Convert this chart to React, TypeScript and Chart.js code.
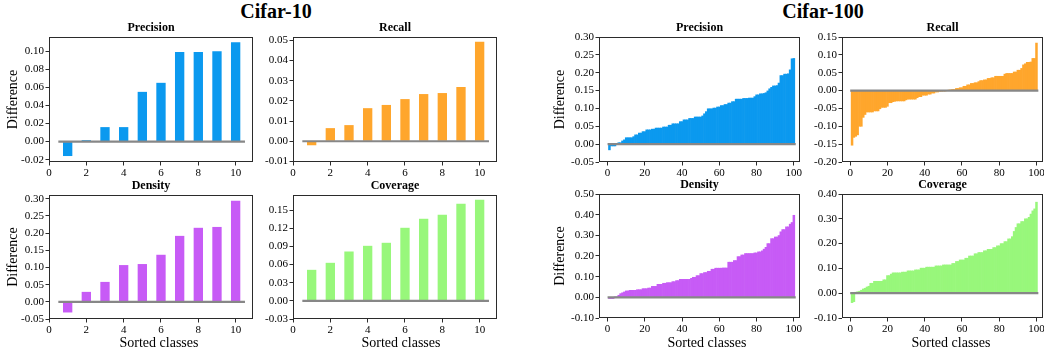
import React, { useEffect, useRef } from "react";
import { Chart, registerables } from "chart.js";

Chart.register(...registerables);

const FONT = '"Liberation Serif", "Times New Roman", Times, serif';
Chart.defaults.font.family = FONT;
Chart.defaults.color = "#000";

// ---------- data ----------
const classes10 = [1, 2, 3, 4, 5, 6, 7, 8, 9, 10];
const classes100 = Array.from({ length: 100 }, (_, i) => i + 1);

const precision10 = [-0.016, 0.0015, 0.016, 0.016, 0.055, 0.065, 0.099, 0.099, 0.1, 0.11];
const recall10 = [-0.002, 0.0065, 0.008, 0.0164, 0.018, 0.0209, 0.0234, 0.0239, 0.0269, 0.0493];
const density10 = [-0.031, 0.029, 0.058, 0.107, 0.11, 0.137, 0.192, 0.2155, 0.218, 0.294];
const coverage10 = [0.0513, 0.0629, 0.0816, 0.091, 0.096, 0.1208, 0.1357, 0.1423, 0.1605, 0.167];

const precision100 = [
  -0.016, -0.005, -0.005, -0.005, 0.001, 0.004, 0.004, 0.009, 0.012, 0.018,
  0.018, 0.018, 0.018, 0.021, 0.026, 0.026, 0.031, 0.031, 0.035, 0.035,
  0.04, 0.04, 0.04, 0.042, 0.042, 0.045, 0.045, 0.045, 0.045, 0.048,
  0.048, 0.048, 0.053, 0.053, 0.057, 0.057, 0.057, 0.057, 0.063, 0.063,
  0.068, 0.068, 0.068, 0.072, 0.072, 0.072, 0.076, 0.076, 0.076, 0.076,
  0.079, 0.085, 0.091, 0.099, 0.099, 0.099, 0.101, 0.101, 0.104, 0.104,
  0.108, 0.108, 0.111, 0.111, 0.115, 0.115, 0.119, 0.119, 0.126, 0.126,
  0.126, 0.126, 0.128, 0.128, 0.128, 0.129, 0.129, 0.129, 0.133, 0.138,
  0.138, 0.141, 0.141, 0.142, 0.144, 0.149, 0.155, 0.159, 0.163, 0.163,
  0.164, 0.171, 0.192, 0.192, 0.196, 0.196, 0.197, 0.208, 0.239, 0.24,
];

const recall100 = [
  -0.153, -0.131, -0.128, -0.124, -0.1, -0.1, -0.075, -0.067, -0.06, -0.06,
  -0.06, -0.06, -0.057, -0.057, -0.057, -0.051, -0.047, -0.047, -0.047, -0.044,
  -0.034, -0.034, -0.031, -0.03, -0.029, -0.029, -0.029, -0.029, -0.029, -0.026,
  -0.024, -0.024, -0.024, -0.024, -0.024, -0.02, -0.017, -0.017, -0.013, -0.013,
  -0.013, -0.01, -0.01, -0.007, -0.007, -0.004, -0.004, -0.002, -0.002, -0.001,
  -0.001, 0.0, 0.001, 0.002, 0.003, 0.003, 0.006, 0.006, 0.008, 0.008,
  0.012, 0.012, 0.016, 0.016, 0.02, 0.02, 0.022, 0.022, 0.025, 0.028,
  0.028, 0.03, 0.03, 0.034, 0.034, 0.036, 0.036, 0.04, 0.04, 0.04,
  0.04, 0.04, 0.046, 0.048, 0.048, 0.048, 0.048, 0.052, 0.052, 0.057,
  0.057, 0.062, 0.072, 0.075, 0.079, 0.079, 0.08, 0.09, 0.09, 0.133,
];

const density100 = [
  -0.006, -0.006, -0.006, 0.001, 0.001, 0.01, 0.018, 0.022, 0.026, 0.031,
  0.031, 0.034, 0.034, 0.034, 0.034, 0.037, 0.037, 0.037, 0.042, 0.042,
  0.042, 0.045, 0.045, 0.053, 0.053, 0.053, 0.063, 0.063, 0.063, 0.068,
  0.068, 0.071, 0.071, 0.071, 0.076, 0.076, 0.081, 0.081, 0.087, 0.087,
  0.087, 0.087, 0.087, 0.087, 0.092, 0.097, 0.097, 0.105, 0.105, 0.115,
  0.115, 0.12, 0.12, 0.126, 0.126, 0.136, 0.136, 0.141, 0.141, 0.141,
  0.141, 0.142, 0.142, 0.142, 0.17, 0.17, 0.17, 0.178, 0.178, 0.197,
  0.197, 0.205, 0.205, 0.212, 0.212, 0.212, 0.212, 0.212, 0.215, 0.215,
  0.22, 0.22, 0.225, 0.233, 0.242, 0.26, 0.26, 0.284, 0.284, 0.292,
  0.292, 0.299, 0.317, 0.328, 0.328, 0.341, 0.341, 0.354, 0.362, 0.397,
];

const coverage100 = [
  -0.038, -0.034, 0.004, 0.006, 0.008, 0.012, 0.017, 0.02, 0.025, 0.028,
  0.04, 0.04, 0.048, 0.048, 0.048, 0.048, 0.048, 0.054, 0.054, 0.071,
  0.071, 0.077, 0.082, 0.082, 0.082, 0.082, 0.082, 0.085, 0.085, 0.085,
  0.09, 0.09, 0.09, 0.09, 0.094, 0.094, 0.094, 0.101, 0.101, 0.101,
  0.105, 0.105, 0.105, 0.105, 0.105, 0.11, 0.11, 0.11, 0.11, 0.114,
  0.114, 0.114, 0.114, 0.114, 0.12, 0.12, 0.128, 0.128, 0.134, 0.134,
  0.134, 0.141, 0.141, 0.15, 0.15, 0.15, 0.159, 0.159, 0.164, 0.164,
  0.164, 0.171, 0.171, 0.177, 0.177, 0.177, 0.184, 0.184, 0.191, 0.191,
  0.2, 0.2, 0.208, 0.208, 0.219, 0.219, 0.228, 0.249, 0.265, 0.28,
  0.28, 0.289, 0.289, 0.3, 0.3, 0.306, 0.319, 0.332, 0.34, 0.367,
];

const xTicks10 = [0, 2, 4, 6, 8, 10];
const xTicks100 = [0, 20, 40, 60, 80, 100];
const yTicksPrecision10 = [-0.02, 0.0, 0.02, 0.04, 0.06, 0.08, 0.1];
const yTicksRecall10 = [-0.01, 0.0, 0.01, 0.02, 0.03, 0.04, 0.05];
const yTicksDensity10 = [-0.05, 0.0, 0.05, 0.1, 0.15, 0.2, 0.25, 0.3];
const yTicksCoverage10 = [-0.03, 0.0, 0.03, 0.06, 0.09, 0.12, 0.15];
const yTicksPrecision100 = [-0.05, 0.0, 0.05, 0.1, 0.15, 0.2, 0.25, 0.3];
const yTicksRecall100 = [-0.2, -0.15, -0.1, -0.05, 0.0, 0.05, 0.1, 0.15];
const yTicksDensity100 = [-0.1, 0.0, 0.1, 0.2, 0.3, 0.4, 0.5];
const yTicksCoverage100 = [-0.1, 0.0, 0.1, 0.2, 0.3, 0.4];

// ---------- styling / layout ----------
const BLUE = "#0b99ef";
const ORANGE = "#ffa62c";
const PURPLE = "#c75bf6";
const GREEN = "#98f77b";
const ZERO_GRAY = "#878787";

type Panel = {
  key: string;
  title: string;
  xs: number[];
  ys: number[];
  color: string;
  xMin: number;
  xMax: number;
  xTicks: number[];
  yMin: number;
  yMax: number;
  yTicks: number[];
  zero: [number, number];
  barPct: number;
  box: [number, number, number, number]; // plot-area left, top, width, height
  yTitle: boolean;
  yTitlePad: number;
};

const panels: Panel[] = [
  { key: "p10", title: "Precision", xs: classes10, ys: precision10, color: BLUE, xMin: 0, xMax: 10.93, xTicks: xTicks10, yMin: -0.0226, yMax: 0.1157, yTicks: yTicksPrecision10, zero: [0.5, 10.5], barPct: 0.5, box: [49, 37, 204, 125], yTitle: true, yTitlePad: 4.6 },
  { key: "r10", title: "Recall", xs: classes10, ys: recall10, color: ORANGE, xMin: 0, xMax: 10.93, xTicks: xTicks10, yMin: -0.0103, yMax: 0.0517, yTicks: yTicksRecall10, zero: [0.5, 10.5], barPct: 0.5, box: [293, 37, 204, 125], yTitle: false, yTitlePad: 0 },
  { key: "d10", title: "Density", xs: classes10, ys: density10, color: PURPLE, xMin: 0, xMax: 10.93, xTicks: xTicks10, yMin: -0.05, yMax: 0.311, yTicks: yTicksDensity10, zero: [0.5, 10.5], barPct: 0.5, box: [49, 195, 204, 124], yTitle: true, yTitlePad: 4.6 },
  { key: "c10", title: "Coverage", xs: classes10, ys: coverage10, color: GREEN, xMin: 0, xMax: 10.93, xTicks: xTicks10, yMin: -0.03, yMax: 0.175, yTicks: yTicksCoverage10, zero: [0.5, 10.5], barPct: 0.5, box: [293, 195, 204, 124], yTitle: false, yTitlePad: 0 },
  { key: "p100", title: "Precision", xs: classes100, ys: precision100, color: BLUE, xMin: -4.6, xMax: 103.3, xTicks: xTicks100, yMin: -0.05, yMax: 0.3, yTicks: yTicksPrecision100, zero: [0, 101], barPct: 1, box: [599, 37, 201, 125], yTitle: true, yTitlePad: 2.1 },
  { key: "r100", title: "Recall", xs: classes100, ys: recall100, color: ORANGE, xMin: -4.4, xMax: 103.5, xTicks: xTicks100, yMin: -0.2, yMax: 0.15, yTicks: yTicksRecall100, zero: [0, 101], barPct: 1, box: [842, 37, 201, 125], yTitle: false, yTitlePad: 0 },
  { key: "d100", title: "Density", xs: classes100, ys: density100, color: PURPLE, xMin: -4.6, xMax: 103.3, xTicks: xTicks100, yMin: -0.1, yMax: 0.5, yTicks: yTicksDensity100, zero: [0, 101], barPct: 1, box: [599, 194, 201, 124], yTitle: true, yTitlePad: 2.1 },
  { key: "c100", title: "Coverage", xs: classes100, ys: coverage100, color: GREEN, xMin: -4.4, xMax: 103.5, xTicks: xTicks100, yMin: -0.1, yMax: 0.4, yTicks: yTicksCoverage100, zero: [0, 101], barPct: 1, box: [842, 194, 201, 124], yTitle: false, yTitlePad: 0 },
];

const framePlugin = {
  id: "frame",
  afterDatasetsDraw(chart: any) {
    const { ctx, chartArea: a } = chart;
    ctx.save();
    ctx.strokeStyle = "#2b2b2b";
    ctx.lineWidth = 1;
    ctx.strokeRect(a.left + 0.5, a.top + 0.5, a.right - a.left - 1, a.bottom - a.top - 1);
    ctx.restore();
  },
};

function PanelChart({ p }: { p: Panel }) {
  const ref = useRef<HTMLCanvasElement>(null);
  const L = 49;
  const T = 17;
  const R = 8;
  const B = 20;
  const [px, py, pw, ph] = p.box;
  const cw = L + pw + R;
  const ch = T + ph + B;

  useEffect(() => {
    const canvas = ref.current;
    if (!canvas) return;
    const chart = new Chart(canvas, {
      type: "bar",
      data: {
        datasets: [
          {
            type: "line",
            data: [
              { x: p.zero[0], y: 0 },
              { x: p.zero[1], y: 0 },
            ],
            borderColor: ZERO_GRAY,
            borderWidth: 2.2,
            pointRadius: 0,
            order: 0,
          } as any,
          {
            type: "bar",
            data: p.xs.map((x, i) => ({ x, y: p.ys[i] })),
            backgroundColor: p.color,
            borderWidth: 0,
            barPercentage: p.barPct,
            categoryPercentage: 1,
            order: 1,
          } as any,
        ],
      },
      options: {
        animation: false,
        responsive: false,
        maintainAspectRatio: false,
        layout: { padding: { left: 0, top: 0, right: R, bottom: 0 } },
        plugins: {
          legend: { display: false },
          tooltip: { enabled: false },
          title: {
            display: true,
            text: p.title,
            fullSize: false,
            font: { size: 12, weight: "bold", lineHeight: 1.25 },
            color: "#000",
            padding: { top: 0, bottom: 2 },
          },
        },
        scales: {
          x: {
            type: "linear",
            min: p.xMin,
            max: p.xMax,
            offset: false,
            grid: { display: true, drawOnChartArea: false, drawTicks: true, tickLength: 3.5, tickColor: "#2b2b2b", offset: false },
            border: { display: false },
            ticks: {
              font: { size: 11 },
              color: "#000",
              padding: 1.5,
              autoSkip: false,
              maxRotation: 0,
              callback: (v: any) => String(Math.round(Number(v))),
            },
            afterBuildTicks: (axis: any) => {
              axis.ticks = p.xTicks.map((v) => ({ value: v }));
            },
            afterFit: (axis: any) => {
              axis.height = B;
              axis.paddingLeft = 0;
              axis.paddingRight = 0;
            },
          },
          y: {
            type: "linear",
            min: p.yMin,
            max: p.yMax,
            grid: { display: true, drawOnChartArea: false, drawTicks: true, tickLength: 3.5, tickColor: "#2b2b2b" },
            border: { display: false },
            title: {
              display: p.yTitle,
              text: "Difference",
              font: { size: 14 },
              color: "#000",
              padding: { top: p.yTitlePad, bottom: 0 },
            },
            ticks: {
              font: { size: 11 },
              color: "#000",
              padding: 1.5,
              autoSkip: false,
              callback: (v: any) => Number(v).toFixed(2),
            },
            afterBuildTicks: (axis: any) => {
              axis.ticks = p.yTicks.map((v) => ({ value: v }));
            },
            afterFit: (axis: any) => {
              axis.width = L;
              axis.paddingTop = 0;
              axis.paddingBottom = 0;
            },
          },
        },
      } as any,
      plugins: [framePlugin],
    });
    return () => chart.destroy();
  }, [p]);

  return (
    <canvas
      ref={ref}
      width={cw}
      height={ch}
      style={{ position: "absolute", left: px - L, top: py - T, width: cw, height: ch }}
    />
  );
}

const textStyle = (x: number, y: number, size: number, bold: boolean): React.CSSProperties => ({
  position: "absolute",
  left: x,
  top: y,
  transform: "translate(-50%, -50%)",
  fontFamily: FONT,
  fontSize: size,
  fontWeight: bold ? "bold" : "normal",
  lineHeight: 1,
  whiteSpace: "nowrap",
  color: "#000",
});

export default function App() {
  return (
    <div
      style={{
        position: "absolute",
        left: 0,
        top: 0,
        width: 1044,
        height: 355,
        overflow: "hidden",
        background: "#fff",
      }}
    >
      <div style={textStyle(276, 11, 20, true)}>Cifar-10</div>
      <div style={textStyle(823, 11, 20, true)}>Cifar-100</div>
      {panels.map((p) => (
        <PanelChart key={p.key} p={p} />
      ))}
      <div style={textStyle(159, 343, 14, false)}>Sorted classes</div>
      <div style={textStyle(401, 343, 14, false)}>Sorted classes</div>
      <div style={textStyle(707, 343, 14, false)}>Sorted classes</div>
      <div style={textStyle(951, 343, 14, false)}>Sorted classes</div>
    </div>
  );
}
